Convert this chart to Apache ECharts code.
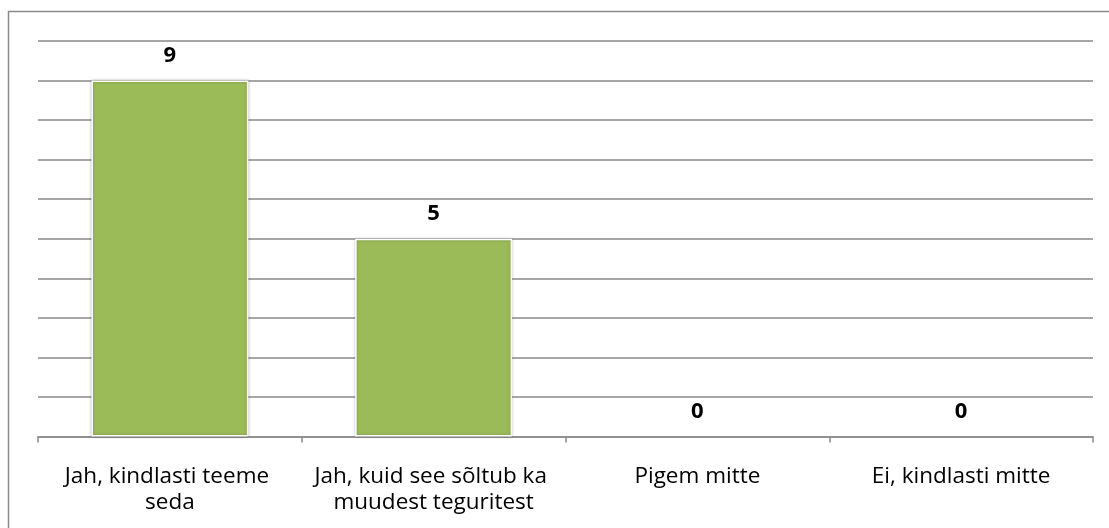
<!DOCTYPE html>
<html>
<head>
<meta charset="utf-8">
<script src="https://cdn.jsdelivr.net/npm/echarts@6/dist/echarts.min.js"></script>
<style>
html,body{margin:0;padding:0;background:#fff;}
#chart{width:1109px;height:528px;}
</style>
</head>
<body>
<div id="chart"></div>
<script>
var categories = ["Jah, kindlasti teeme seda", "Jah, kuid see sõltub ka muudest teguritest", "Pigem mitte", "Ei, kindlasti mitte"];
var values = [9, 5, 0, 0];

var chart = echarts.init(document.getElementById('chart'), null, {renderer: 'canvas'});
chart.setOption({
  animation: false,
  backgroundColor: '#ffffff',
  graphic: [{
    type: 'polyline',
    shape: {points: [[8.5, 600], [8.5, 11.5], [1200, 11.5]]},
    style: {stroke: '#8a8a8a', lineWidth: 1.5, fill: null},
    silent: true
  }],
  grid: {left: 38, right: 16, top: 41, bottom: 91.5, containLabel: false},
  xAxis: {
    type: 'category',
    data: categories,
    axisLine: {lineStyle: {color: '#8a8a8a', width: 1.5}},
    axisTick: {show: true, length: 6, lineStyle: {color: '#8a8a8a', width: 1.5}},
    axisLabel: {
      color: '#000',
      fontFamily: '"Open Sans", sans-serif',
      fontSize: 22.5,
      lineHeight: 26,
      margin: 27,
      interval: 0,
      width: 252,
      overflow: 'break',
      align: 'center'
    }
  },
  yAxis: {
    type: 'value',
    min: 0,
    max: 10,
    interval: 1,
    axisLine: {show: false},
    axisTick: {show: false},
    axisLabel: {show: false},
    splitLine: {lineStyle: {color: '#8a8a8a', width: 1.5}}
  },
  series: [{
    type: 'bar',
    data: values.map(function (v) {
      return v === 0 ? {value: v, itemStyle: {borderWidth: 0, shadowBlur: 0}} : v;
    }),
    barWidth: '59.5%',
    itemStyle: {
      color: '#9bbb59',
      borderColor: '#ffffff',
      borderWidth: 1.5,
      shadowColor: 'rgba(0,0,0,0.25)',
      shadowBlur: 3
    },
    label: {
      show: true,
      position: 'top',
      distance: 14,
      color: '#000',
      fontWeight: 'bold',
      fontFamily: '"Open Sans", sans-serif',
      fontSize: 22
    }
  }]
});
</script>
</body>
</html>
